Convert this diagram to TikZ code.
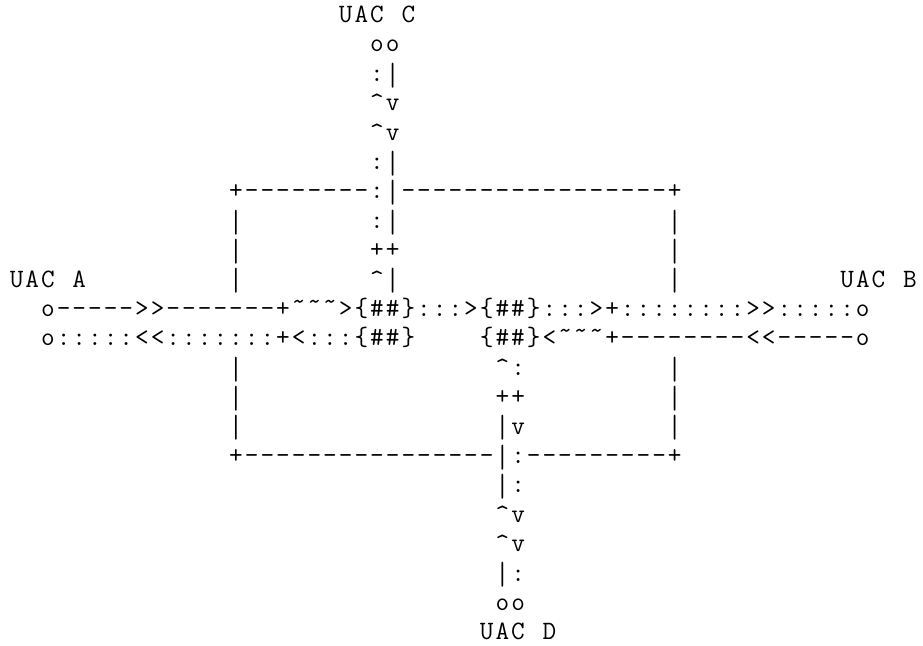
\documentclass[tikz,border=0pt]{standalone}
\usepackage{fontspec}
\usepackage{graphicx}
\newcommand{\tld}{˜}
\newcommand{\crt}{\textasciicircum}
\newcommand{\vbar}{\raisebox{-6.5pt}{\resizebox*{\width}{25pt}{\raisebox{\depth}{|}}}}
% one character per grid cell
\newlength{\cellw}
\setlength{\cellw}{15.67pt}
\makeatletter
\newcommand{\gridrow}[1]{\gridr@w#1\@nil}
\def\gridr@w#1{\ifx#1\@nil\else\makebox[\cellw][c]{#1}\expandafter\gridr@w\fi}
\makeatother
\tikzset{
  ascii/.style={anchor=base west, inner sep=0pt, outer sep=0pt,
    font=\ttfamily\fontsize{26.5pt}{29pt}\selectfont}
}
\begin{document}
\begin{tikzpicture}[x=15.67pt, y=-29.4pt]
\useasboundingbox (-0.5616,0.2347) rectangle (58.34,22.207);
% UAC C and its stack
\node[ascii] (uacC) at (21,1) {\gridrow{UAC{\ }C}};
\node[ascii] (oC) at (23,2) {\gridrow{oo}};
\node[ascii] (c3) at (23,3) {\gridrow{:\vbar}};
\node[ascii] (c4) at (23,4) {\gridrow{\crt v}};
\node[ascii] (c5) at (23,5) {\gridrow{\crt v}};
\node[ascii] (c6) at (23,6) {\gridrow{:\vbar}};
% Box top
\node[ascii] (boxtop) at (14,7) {\gridrow{+--------:\vbar-----------------+}};
\node[ascii] (c8) at (23,8) {\gridrow{:\vbar}};
\node[ascii] (c9) at (23,9) {\gridrow{++}};
\node[ascii] (c10) at (23,10) {\gridrow{\crt\vbar}};
% Box sides
\foreach \r in {8,9,10,13,14,15} {
  \node[ascii] (left\r) at (14,\r) {\gridrow{\vbar}};
  \node[ascii] (right\r) at (42,\r) {\gridrow{\vbar}};
}
% UAC A and UAC B
\node[ascii] (uacA) at (0,10) {\gridrow{UAC{\ }A}};
\node[ascii] (uacB) at (53,10) {\gridrow{UAC{\ }B}};
\node[ascii] (lineAB) at (2,11) {\gridrow{o----->>-------+\tld\tld\tld>\{\#\#\}:::>\{\#\#\}:::>+::::::::>>:::::o}};
\node[ascii] (lineA) at (2,12) {\gridrow{o:::::<<:::::::+<:::\{\#\#\}}};
\node[ascii] (lineB) at (30,12) {\gridrow{\{\#\#\}<\tld\tld\tld+--------<<-----o}};
% Stack down to UAC D
\node[ascii] (d13) at (31,13) {\gridrow{\crt:}};
\node[ascii] (d14) at (31,14) {\gridrow{++}};
\node[ascii] (d15) at (31,15) {\gridrow{\vbar v}};
% Box bottom
\node[ascii] (boxbot) at (14,16) {\gridrow{+----------------\vbar:---------+}};
\node[ascii] (d17) at (31,17) {\gridrow{\vbar:}};
\node[ascii] (d18) at (31,18) {\gridrow{\crt v}};
\node[ascii] (d19) at (31,19) {\gridrow{\crt v}};
\node[ascii] (d20) at (31,20) {\gridrow{\vbar:}};
\node[ascii] (oD) at (31,21) {\gridrow{oo}};
\node[ascii] (uacD) at (30,22) {\gridrow{UAC{\ }D}};
\end{tikzpicture}
\end{document}
